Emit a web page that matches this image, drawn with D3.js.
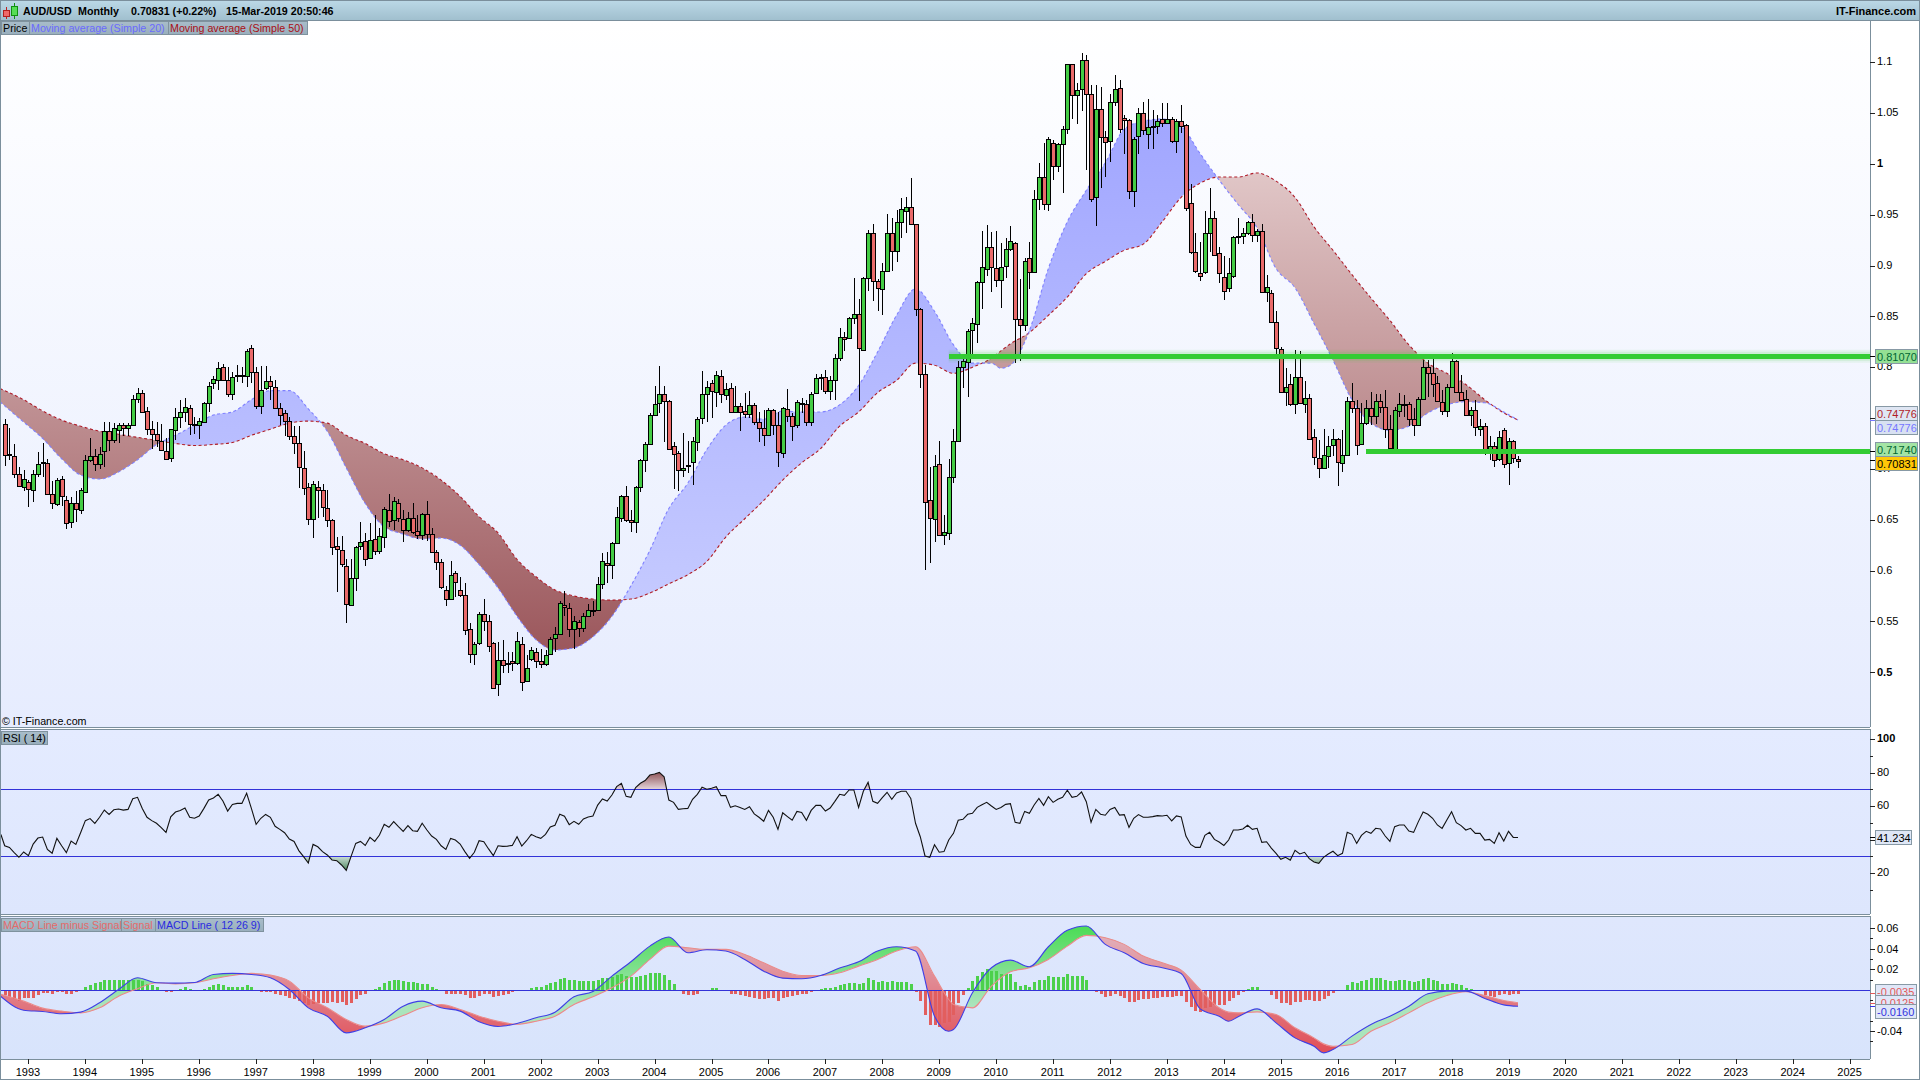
<!DOCTYPE html>
<html>
<head>
<meta charset="utf-8">
<title>AUD/USD Monthly</title>
<script src="https://cdn.jsdelivr.net/npm/d3@7/dist/d3.min.js"></script>
<style>
html,body{margin:0;padding:0;background:#fff;overflow:hidden}
svg{display:block}
text{font-family:"Liberation Sans",Arial,sans-serif;font-size:10.7px}
</style>
</head>
<body>
<svg id="chart" width="1920" height="1080"></svg>
<script>
// ---------- monthly candles, first month Aug 1992 ----------
const opens=[
.744,.714,.713,.695,.682,.687,.679,.695,.707,.706,
.675,.665,.690,.669,.647,.666,.659,.678,.709,.713,
.705,.717,.737,.728,.738,.743,.740,.743,.769,.775,
.757,.739,.734,.727,.718,.710,.738,.751,.756,.760,
.744,.743,.746,.765,.784,.787,.800,.787,.773,.791,
.791,.791,.819,.795,.762,.779,.786,.781,.760,.755,
.747,.732,.725,.701,.682,.651,.682,.679,.662,.650,
.624,.620,.605,.566,.593,.624,.629,.612,.631,.619,
.633,.660,.649,.666,.651,.640,.652,.639,.635,.656,
.636,.618,.608,.581,.572,.598,.581,.576,.543,.518,
.528,.557,.550,.529,.488,.512,.508,.511,.509,.528,
.491,.513,.520,.511,.508,.518,.534,.538,.566,.563,
.542,.549,.543,.555,.560,.561,.586,.607,.605,.627,
.651,.673,.650,.648,.682,.708,.724,.753,.765,.774,
.767,.723,.716,.699,.703,.706,.726,.750,.774,.784,
.775,.791,.773,.780,.756,.762,.757,.754,.763,.746,
.740,.733,.758,.743,.716,.759,.752,.743,.765,.764,
.746,.774,.789,.790,.776,.787,.809,.830,.828,.848,
.852,.817,.888,.932,.885,.877,.895,.932,.914,.943,
.954,.958,.941,.857,.793,.669,.651,.705,.635,.637,
.692,.727,.800,.806,.836,.843,.884,.896,.918,.898,
.886,.899,.916,.922,.847,.841,.907,.893,.965,.987,
.960,1.020,.997,1.019,1.034,1.098,1.068,1.073,1.102,1.069,
.967,1.054,1.026,1.023,1.061,1.075,1.045,1.043,.973,1.027,
1.050,1.029,1.036,1.037,1.044,1.040,1.044,1.022,1.042,1.038,
.961,.913,.893,.894,.932,.947,.912,.889,.878,.890,
.928,.929,.932,.943,.930,.934,.874,.873,.844,.818,
.776,.783,.763,.790,.764,.770,.731,.711,.701,.713,
.723,.729,.706,.714,.767,.760,.724,.745,.760,.752,
.767,.761,.739,.720,.757,.763,.764,.749,.743,.769,
.800,.794,.784,.766,.757,.780,.806,.776,.769,.753,
.758,.739,.742,.717,.723,.709,.738,.705,.727,.710];
const closes=[
.714,.715,.695,.683,.690,.680,.695,.705,.706,.676,
.666,.689,.673,.646,.666,.660,.679,.709,.713,.705,
.715,.737,.728,.740,.743,.740,.743,.769,.775,.756,
.739,.734,.728,.718,.710,.739,.751,.756,.761,.744,
.743,.747,.765,.782,.788,.799,.787,.773,.790,.792,
.792,.816,.795,.762,.778,.786,.781,.760,.753,.747,
.732,.725,.701,.681,.651,.685,.679,.662,.650,.623,
.621,.606,.568,.593,.623,.628,.611,.630,.619,.634,
.661,.649,.668,.651,.640,.652,.638,.635,.656,.636,
.618,.608,.583,.572,.596,.589,.576,.542,.518,.528,
.557,.550,.525,.485,.512,.507,.509,.509,.531,.491,
.504,.522,.511,.508,.517,.533,.538,.568,.564,.542,
.550,.543,.555,.561,.561,.587,.609,.605,.627,.653,
.673,.649,.648,.682,.709,.724,.753,.764,.774,.767,
.720,.715,.699,.701,.704,.727,.749,.774,.781,.776,
.792,.773,.779,.756,.762,.756,.754,.763,.746,.740,
.733,.758,.743,.716,.760,.752,.742,.766,.764,.746,
.774,.789,.790,.776,.787,.809,.830,.828,.848,.852,
.819,.888,.932,.885,.878,.895,.932,.914,.943,.956,
.958,.941,.857,.793,.667,.651,.703,.635,.638,.692,
.727,.800,.806,.836,.843,.884,.899,.918,.898,.886,
.899,.916,.924,.847,.841,.904,.893,.965,.987,.960,
1.024,.997,1.019,1.034,1.098,1.068,1.073,1.102,1.069,.966,
1.054,1.026,1.021,1.061,1.074,1.035,1.043,.973,1.024,1.050,
1.033,1.036,1.037,1.042,1.040,1.044,1.022,1.042,1.037,.956,
.913,.894,.890,.932,.947,.911,.892,.875,.893,.928,
.929,.932,.943,.930,.934,.874,.879,.844,.818,.776,
.781,.763,.790,.764,.770,.730,.711,.701,.714,.723,
.729,.706,.714,.767,.760,.724,.745,.760,.752,.767,
.761,.739,.720,.758,.764,.764,.749,.743,.769,.800,
.794,.783,.766,.757,.781,.806,.776,.768,.753,.758,
.741,.742,.718,.723,.709,.731,.705,.727,.710,.708];
const highs=[
.749,.740,.724,.702,.699,.689,.699,.717,.725,.710,
.688,.691,.693,.673,.672,.678,.681,.714,.730,.720,
.722,.746,.746,.745,.745,.745,.745,.773,.780,.778,
.761,.747,.746,.744,.730,.739,.760,.768,.770,.763,
.751,.750,.766,.785,.791,.805,.803,.800,.795,.802,
.800,.818,.822,.800,.801,.801,.791,.787,.765,.758,
.751,.742,.742,.718,.686,.688,.688,.685,.679,.651,
.633,.634,.611,.611,.624,.648,.637,.647,.655,.642,
.663,.675,.672,.670,.660,.658,.666,.655,.657,.668,
.642,.620,.611,.585,.609,.600,.594,.588,.548,.530,
.559,.572,.556,.530,.530,.532,.520,.520,.540,.535,
.517,.525,.524,.523,.522,.535,.545,.570,.580,.568,
.555,.551,.558,.567,.570,.594,.617,.618,.628,.663,
.674,.683,.660,.683,.710,.726,.755,.782,.801,.782,
.768,.726,.718,.735,.727,.731,.751,.796,.786,.787,
.796,.797,.784,.784,.782,.765,.775,.777,.765,.756,
.758,.760,.759,.756,.761,.779,.755,.768,.770,.768,
.776,.793,.793,.797,.791,.813,.839,.835,.849,.888,
.867,.889,.935,.941,.887,.902,.951,.947,.955,.966,
.967,.986,.941,.858,.802,.702,.714,.727,.655,.710,
.739,.806,.813,.838,.848,.885,.934,.940,.933,.934,
.922,.927,.939,.923,.887,.907,.923,.974,1.001,1.020,
1.026,1.023,1.020,1.037,1.098,1.098,1.079,1.109,1.107,1.077,
1.077,1.076,1.032,1.069,1.087,1.082,1.048,1.044,1.026,1.055,
1.061,1.064,1.053,1.048,1.060,1.060,1.046,1.044,1.058,1.039,
.980,.932,.923,.954,.976,.954,.918,.909,.907,.929,
.947,.937,.944,.951,.936,.941,.891,.876,.855,.820,
.799,.793,.817,.816,.786,.774,.739,.728,.739,.732,
.739,.730,.738,.771,.784,.768,.765,.768,.776,.774,
.774,.778,.753,.761,.775,.773,.766,.760,.771,.807,
.807,.808,.791,.778,.783,.814,.807,.792,.778,.761,
.768,.749,.745,.732,.726,.737,.740,.730,.728,.713];
const lows=[
.703,.709,.691,.682,.678,.663,.667,.692,.692,.674,
.661,.664,.664,.641,.642,.648,.656,.677,.707,.698,
.700,.702,.718,.725,.725,.732,.732,.742,.765,.755,
.733,.720,.722,.718,.709,.707,.728,.740,.746,.733,
.734,.729,.745,.756,.779,.778,.786,.771,.768,.785,
.784,.781,.784,.759,.754,.778,.768,.760,.743,.732,
.728,.715,.681,.674,.645,.632,.652,.653,.643,.615,
.579,.604,.548,.565,.580,.620,.605,.611,.615,.616,
.622,.643,.640,.648,.628,.638,.636,.631,.630,.629,
.617,.601,.582,.565,.571,.574,.574,.537,.509,.507,
.527,.541,.520,.485,.477,.499,.499,.501,.507,.482,
.490,.511,.504,.504,.506,.517,.520,.537,.555,.535,
.523,.535,.540,.554,.555,.561,.582,.588,.592,.626,
.648,.648,.638,.637,.677,.697,.724,.752,.755,.726,
.720,.680,.678,.692,.696,.684,.718,.744,.746,.750,
.761,.765,.768,.755,.755,.737,.750,.750,.743,.726,
.723,.732,.733,.702,.711,.746,.727,.740,.755,.742,
.742,.774,.778,.774,.768,.768,.806,.816,.828,.842,
.767,.816,.875,.865,.855,.851,.895,.895,.903,.927,
.932,.940,.850,.780,.601,.607,.628,.634,.625,.630,
.686,.726,.780,.771,.813,.824,.857,.890,.874,.879,
.858,.888,.914,.804,.806,.836,.877,.893,.955,.955,
.954,.984,.992,.971,1.029,1.044,1.039,1.052,.994,.962,
.939,.976,.987,1.002,1.057,1.030,1.010,.965,.958,1.010,
1.028,1.015,1.015,1.029,1.036,1.039,1.020,1.011,1.030,.954,
.911,.893,.885,.892,.913,.910,.883,.866,.874,.888,
.921,.921,.930,.923,.923,.873,.864,.843,.808,.775,
.762,.762,.754,.764,.755,.730,.704,.691,.700,.701,
.713,.683,.697,.714,.755,.714,.724,.743,.743,.744,
.755,.730,.719,.719,.751,.751,.742,.732,.742,.769,
.771,.771,.766,.753,.751,.780,.776,.768,.752,.742,
.732,.732,.714,.709,.702,.708,.701,.684,.706,.701];

// ---------- moving averages, read at these month numbers ----------
const maMonths=[-1,4,8,12,16,20,24,28,32,36,40,44,48,52,56,60,64,68,72,76,80,84,88,92,96,100,
104,108,112,116,120,124,128,132,136,140,144,148,152,156,160,164,168,172,176,180,184,188,192,196,200,204,208,210,212,
216,220,224,228,232,236,240,244,248,252,256,260,264,268,272,276,280,284,288,292,296,300,304,308,312,316,319];
const ma20=[.766,.746,.730,.710,.694,.690,.697,.709,.724,.733,.743,.753,.756,.768,.777,.777,.759,.737,.701,.666,.643,.636,.631,.632,.625,.606,
.583,.555,.532,.522,.524,.535,.555,.585,.620,.661,.686,.719,.743,.751,.749,.757,.756,.756,.763,.782,.815,.851,.877,.855,.822,.804,.804,.799,.802,
.836,.897,.943,.974,1.001,1.034,1.042,1.044,1.037,1.010,.984,.960,.937,.897,.878,.843,.807,.768,.745,.738,.742,.755,.763,.766,.765,.756,.748];
const ma50=[.779,.768,.757,.748,.742,.737,.734,.731,.728,.725,.723,.724,.726,.733,.739,.745,.747,.745,.733,.725,.715,.709,.701,.689,.673,.653,
.637,.611,.594,.581,.575,.572,.571,.572,.578,.587,.596,.609,.633,.651,.669,.689,.706,.720,.742,.756,.775,.787,.804,.802,.794,.800,.809,.816,.823,
.834,.851,.869,.892,.904,.915,.921,.943,.967,.981,.987,.987,.991,.983,.967,.938,.915,.891,.868,.846,.822,.804,.794,.783,.768,.755,.748];

// ---------- horizontal levels ----------
const levelValues=[0.8107,0.7174];
const levelStartMonths=[199,287];

// ---------- RSI(14), monthly ----------
const rsiBeforeFirstMonth=43.0;
const rsi=[
36.3,35.3,32.2,29.4,32.6,30.4,37.3,40.9,41.5,34.1,
31.8,40.7,36.3,32.2,39.1,37.1,44.1,51.3,52.5,49.7,
53.3,57.6,55.0,57.8,58.2,57.6,58.0,64.4,65.2,58.6,
53.3,51.3,49.7,47.1,44.3,53.6,56.4,57.4,58.8,53.3,
52.7,54.0,58.6,63.6,64.8,67.0,63.0,57.0,61.0,61.6,
61.6,67.6,58.6,49.1,52.7,55.0,53.3,47.9,46.1,44.1,
40.3,38.9,33.4,29.8,26.0,37.1,35.7,32.8,30.8,27.8,
27.4,24.8,21.6,29.8,37.7,38.9,36.5,41.3,38.9,42.7,
49.1,47.3,50.7,47.7,44.9,48.3,45.3,44.9,49.7,45.7,
42.1,40.1,36.3,34.1,40.7,39.7,37.3,32.8,28.8,32.4,
39.3,
38.7,34.4,30.4,36.3,35.9,36.1,36.5,41.7,36.1,39.3,
43.1,41.7,40.7,43.1,47.5,48.5,55.1,53.9,48.9,50.9,
49.1,52.3,53.5,54.1,60.6,64.2,63.0,66.6,71.6,73.6,
65.8,65.2,71.0,73.6,75.2,78.5,79.1,80.1,77.5,63.6,
62.2,58.0,58.4,58.6,64.0,67.0,71.2,70.0,70.6,71.6,
66.2,66.2,59.2,60.2,59.2,58.0,59.6,55.3,53.3,50.9,
57.4,53.3,46.1,56.0,53.7,51.5,56.8,56.2,51.5,57.4,
60.4,60.4,57.0,58.8,62.8,67.0,66.4,69.6,69.6,59.2,
68.8,74.2,62.8,61.6,65.0,68.2,64.0,67.8,68.8,68.8,
64.6,49.7,41.7,30.2,29.4,36.9,32.4,32.8,39.7,43.7,
51.5,52.1,55.1,55.7,59.2,60.8,62.2,60.0,58.0,59.2,
61.0,61.4,50.3,49.7,56.8,55.7,60.6,64.6,60.4,65.6,
62.2,64.0,65.2,69.4,65.2,65.8,68.4,62.6,50.3,58.0,
55.1,54.5,58.0,59.2,54.6,54.9,47.3,52.7,54.9,53.3,
53.3,53.7,54.3,54.1,54.5,51.1,54.1,53.5,42.1,37.1,
35.3,35.3,42.5,44.3,40.1,38.5,36.5,39.7,45.7,45.7,
46.3,48.5,46.1,46.7,38.3,38.7,34.9,31.8,28.2,29.4,
27.6,33.6,31.4,32.4,28.6,26.6,25.8,29.4,31.4,33.0,
30.4,31.8,44.3,43.1,37.7,42.5,44.9,43.7,46.7,46.3,
42.1,38.9,47.7,48.7,48.7,45.1,44.3,50.7,56.4,55.1,
52.7,48.7,46.7,51.7,56.6,50.1,48.3,45.7,46.7,43.7,
43.7,39.7,40.1,37.7,44.1,39.1,44.9,41.3,41.234];

// ---------- MACD histogram, monthly ----------
const macdHist=[
-.0052,-.0071,-.0094,-.0104,-.0084,-.0084,-.0078,-.0055,-.0029,-.0032,
-.0045,-.0026,-.0023,-.0045,-.0036,-.0023,0,.0029,.0049,.0062,
.0071,.0091,.0100,.0100,.0100,.0097,.0091,.0091,.0091,.0084,
.0058,.0042,.0023,0,-.0023,-.0023,0,.0010,.0023,.0010,
0,0,.0010,.0029,.0045,.0052,.0045,.0032,.0029,.0029,
.0023,.0042,.0023,-.0010,-.0023,-.0023,-.0026,-.0045,-.0055,-.0062,
-.0084,-.0094,-.0110,-.0133,-.0152,-.0139,-.0126,-.0126,-.0126,-.0120,
-.0126,-.0120,-.0143,-.0126,-.0087,-.0055,-.0036,0,.0010,.0029,
.0062,.0081,.0091,.0091,.0081,.0078,.0071,.0065,.0058,.0052,
.0029,.0010,-.0013,-.0042,-.0039,-.0036,-.0042,-.0055,-.0081,-.0084,
-.0062,
-.0045,-.0045,-.0071,-.0065,-.0055,-.0036,-.0019,0,0,0,
.0019,.0032,.0032,.0042,.0062,.0071,.0104,.0110,.0100,.0097,
.0081,.0081,.0081,.0081,.0091,.0110,.0110,.0126,.0143,.0149,
.0136,.0120,.0123,.0136,.0143,.0159,.0159,.0159,.0139,.0094,
.0052,0,-.0036,-.0052,-.0055,-.0045,-.0013,0,.0013,.0019,
0,0,-.0036,-.0042,-.0055,-.0062,-.0071,-.0075,-.0087,-.0091,
-.0084,-.0084,-.0104,-.0075,-.0071,-.0062,-.0049,-.0036,-.0045,-.0023,
0,.0010,.0013,.0013,.0032,.0049,.0052,.0068,.0068,.0052,
.0068,.0110,.0100,.0078,.0084,.0075,.0081,.0075,.0075,.0078,
.0052,-.0019,-.0110,-.0249,-.0337,-.0337,-.0363,-.0321,-.0314,-.0240,
-.0133,-.0055,.0019,.0084,.0130,.0168,.0198,.0181,.0181,.0156,
.0156,.0149,.0078,.0036,.0042,.0032,.0071,.0100,.0100,.0130,
.0123,.0120,.0123,.0149,.0136,.0130,.0130,.0091,-.0010,-.0019,
-.0045,-.0071,-.0065,-.0045,-.0065,-.0078,-.0123,-.0123,-.0100,-.0094,
-.0091,-.0078,-.0078,-.0071,-.0068,-.0071,-.0062,-.0062,-.0117,-.0165,
-.0201,-.0217,-.0175,-.0165,-.0152,-.0152,-.0143,-.0104,-.0081,-.0052,
-.0023,.0010,.0023,.0032,0,-.0016,-.0055,-.0087,-.0126,-.0133,
-.0143,-.0120,-.0120,-.0100,-.0100,-.0113,-.0110,-.0087,-.0065,-.0029,
-.0016,-.0010,.0049,.0078,.0068,.0087,.0100,.0110,.0117,.0117,
.0094,.0084,.0087,.0091,.0097,.0081,.0075,.0084,.0104,.0113,
.0100,.0081,.0058,.0058,.0065,.0058,.0042,.0019,.0006,-.0006,
-.0016,-.0049,-.0058,-.0068,-.0052,-.0045,-.0052,-.0045,-.0040];

// ---------- MACD and signal lines, read at these month numbers ----------
const macdMonths=[-1,4,8,12,16,20,24,28,32,36,40,44,48,52,56,60,64,68,72,76,80,84,88,92,96,100,
104,108,112,116,120,124,128,132,136,140,144,148,152,156,160,164,168,172,176,180,184,188,192,196,199,200,204,208,212,
216,220,224,228,232,236,240,244,248,252,256,258,260,264,268,272,276,278,280,284,288,292,296,300,304,308,312,316,319];
const macdLine=[-.0058,-.0198,-.0211,-.0233,-.0217,-.0126,.0003,.0117,.0068,.0065,.0071,.0149,.0159,.0149,.0117,.0003,-.0175,-.0256,-.0418,-.0369,-.0288,-.0159,-.0110,-.0175,-.0207,-.0311,
-.0356,-.0327,-.0272,-.0217,-.0068,-.0016,.0133,.0272,.0424,.0512,.0360,.0389,.0376,.0295,.0181,.0113,.0107,.0139,.0211,.0272,.0376,.0418,.0376,-.0256,-.0402,-.0386,-.0029,.0214,.0288,
.0224,.0418,.0577,.0619,.0441,.0360,.0256,.0214,.0159,-.0185,-.0256,-.0305,-.0262,-.0185,-.0321,-.0467,-.0548,-.0612,-.0580,-.0450,-.0337,-.0256,-.0159,-.0039,-.0013,-.0013,-.0084,-.0146,-.0160];
const signalLine=[-.0040,-.0110,-.0178,-.0207,-.0224,-.0175,-.0062,.0010,.0068,.0058,.0068,.0107,.0139,.0159,.0143,.0084,-.0078,-.0175,-.0288,-.0353,-.0321,-.0249,-.0175,-.0143,-.0191,-.0256,
-.0305,-.0334,-.0305,-.0256,-.0143,-.0068,.0019,.0133,.0295,.0424,.0408,.0392,.0392,.0343,.0262,.0181,.0139,.0139,.0165,.0230,.0295,.0376,.0418,.0133,-.0094,-.0143,-.0175,.0036,.0175,
.0214,.0295,.0424,.0528,.0505,.0441,.0327,.0262,.0191,.0003,-.0175,-.0217,-.0224,-.0214,-.0240,-.0369,-.0467,-.0525,-.0548,-.0531,-.0402,-.0321,-.0224,-.0126,-.0055,-.0019,-.0055,-.0104,-.0125];

// ---------- axes ----------
const yearLabels=[1993,1994,1995,1996,1997,1998,1999,2000,2001,2002,2003,2004,2005,2006,2007,2008,2009,2010,2011,2012,2013,2014,2015,2016,2017,2018,2019,2020,2021,2022,2023,2024,2025];
const priceTicks=[1.1,1.05,1,0.95,0.9,0.85,0.8,0.75,0.7,0.65,0.6,0.55,0.5];
const rsiTicks=[100,80,60,40,20];
const rsiMinorTicks=[90,70,50,30,10];
const macdTicks=[0.06,0.04,0.02,-0.04];
const macdMinorTicks=[0.05,0.03,0.01,-0.01,-0.03,-0.05];

// ---------- current value labels ----------
const priceLabelValues=[0.8107,0.74776,0.74776,0.7174,0.70831];
const priceLabelTexts=["0.81070","0.74776","0.74776","0.71740","0.70831"];
const macdLabelValues=[-0.0035,-0.0125,-0.016];
const macdLabelTexts=["-0.0035","-0.0125","-0.0160"];
const rsiLabelValue=41.234;
const rsiLabelText="41.234";

// ---------- drawing ----------
const W=1920,H=1080,LEFT=1,RIGHT=1870;
const MAIN={t:21,b:727},RS={t:730,b:914},MC={t:917,b:1059};
const FRAME="#7b8f9c";
const smooth=d3.curveMonotoneX;

const svg=d3.select("#chart");
const defs=svg.append("defs");
function grad(id,y1,y2,c1,c2){
  const g=defs.append("linearGradient").attr("id",id).attr("gradientUnits","userSpaceOnUse")
    .attr("x1",0).attr("x2",0).attr("y1",y1).attr("y2",y2);
  g.append("stop").attr("offset",0).attr("stop-color",c1);
  g.append("stop").attr("offset",1).attr("stop-color",c2);
}
grad("bgMain",MAIN.t,MAIN.b,"#ffffff","#e6ecfe");
grad("bgRsi",RS.t,RS.b,"#e4ebff","#dde6fd");
grad("bgMacd",MC.t,MC.b,"#dfe7fd","#d8e4fc");
grad("barTop",0,21,"#bcd9e7","#9fbecd");
grad("legendBg",0,14,"#a9bdca","#98aebc");
grad("fillBlue",100,650,"#a0a5ff","#c8cdff");
grad("fillRed",100,660,"#ebd7d7","#9a555a");
grad("rsiHot",768,789,"#7a3438","#e2d2d8");
grad("rsiCold",856,872,"#cfe0da","#3f7f52");
grad("macdGreen",930,1005,"#4fdc5a","#aae4bc");
grad("macdRed",930,1050,"#e1b4bf","#e15058");

const x=d3.scaleLinear().domain([0,319]).range([4.7,1518]);
const yP=d3.scaleLinear().domain([0.5,1.1]).range([672.3,62.1]);
const yR=d3.scaleLinear().domain([30,70]).range([856.3,789.3]);
const yM=d3.scaleLinear().domain([-0.04,0.06]).range([1031,928]);
const px=i=>Math.round(x(i))+0.5;

// panels
svg.append("rect").attr("width",W).attr("height",H).attr("fill","#fff");
[[MAIN,"bgMain"],[RS,"bgRsi"],[MC,"bgMacd"]].forEach(([p,f])=>{
  svg.append("rect").attr("x",LEFT).attr("y",p.t).attr("width",RIGHT-LEFT).attr("height",p.b-p.t).attr("fill",`url(#${f})`);
});

// moving-average clouds
const maData=maMonths.map((m,i)=>({m,a:ma20[i],b:ma50[i]}));
const clipAbove=d3.area().curve(smooth).x(d=>x(d.m)).y0(MAIN.t).y1(d=>yP(d.b));
const clipBelow=d3.area().curve(smooth).x(d=>x(d.m)).y0(d=>yP(d.b)).y1(MAIN.b);
defs.append("clipPath").attr("id","aboveMa50").append("path").attr("d",clipAbove(maData));
defs.append("clipPath").attr("id","belowMa50").append("path").attr("d",clipBelow(maData));
const cloud=d3.area().curve(smooth).x(d=>x(d.m)).y0(d=>yP(d.a)).y1(d=>yP(d.b));
svg.append("path").attr("d",cloud(maData)).attr("fill","url(#fillBlue)").attr("clip-path","url(#aboveMa50)");
svg.append("path").attr("d",cloud(maData)).attr("fill","url(#fillRed)").attr("clip-path","url(#belowMa50)");
svg.append("path").attr("d",d3.line().curve(smooth).x(d=>x(d.m)).y(d=>yP(d.b))(maData)).attr("fill","none").attr("stroke","#b01c28").attr("stroke-width",1.1).attr("stroke-dasharray","3,2.5");
svg.append("path").attr("d",d3.line().curve(smooth).x(d=>x(d.m)).y(d=>yP(d.a))(maData)).attr("fill","none").attr("stroke","#7f80ff").attr("stroke-width",1.1).attr("stroke-dasharray","3,2.5");

// candles
const candles=d3.range(opens.length);
const cg=svg.append("g").attr("shape-rendering","crispEdges");
cg.selectAll("line").data(candles).join("line")
  .attr("x1",px).attr("x2",px).attr("y1",i=>yP(highs[i])).attr("y2",i=>yP(lows[i]))
  .attr("stroke","#000").attr("stroke-width",1);
cg.selectAll("rect").data(candles).join("rect")
  .attr("x",i=>px(i)-2).attr("width",4)
  .attr("y",i=>Math.round(yP(Math.max(opens[i],closes[i])))+.5)
  .attr("height",i=>Math.max(1,Math.round(Math.abs(yP(opens[i])-yP(closes[i])))))
  .attr("fill",i=>closes[i]>=opens[i]?"#44cc44":"#e96a6a")
  .attr("stroke","#000").attr("stroke-width",1);

// levels
levelValues.forEach((v,i)=>{
  if(i===0){
    [[13,.07],[9,.12]].forEach(([w,o])=>svg.append("line").attr("x1",x(levelStartMonths[i])).attr("x2",RIGHT).attr("y1",yP(v)).attr("y2",yP(v)).attr("stroke","#33cc33").attr("stroke-width",w).attr("opacity",o));
  }
  svg.append("line").attr("x1",x(levelStartMonths[i])).attr("x2",RIGHT).attr("y1",yP(v)).attr("y2",yP(v)).attr("stroke","#33cc33").attr("stroke-width",5).attr("shape-rendering","crispEdges");
});

// RSI panel
const rsiPoints=[{m:-0.8,v:rsiBeforeFirstMonth}].concat(rsi.map((v,m)=>({m,v})));
defs.append("clipPath").attr("id","rsiTop").append("rect").attr("x",LEFT).attr("width",RIGHT-LEFT).attr("y",RS.t).attr("height",yR(70)-RS.t);
defs.append("clipPath").attr("id","rsiBot").append("rect").attr("x",LEFT).attr("width",RIGHT-LEFT).attr("y",yR(30)).attr("height",RS.b-yR(30));
svg.append("path").attr("d",d3.area().x(d=>x(d.m)).y0(yR(70)).y1(d=>yR(d.v))(rsiPoints)).attr("fill","url(#rsiHot)").attr("clip-path","url(#rsiTop)");
svg.append("path").attr("d",d3.area().x(d=>x(d.m)).y0(yR(30)).y1(d=>yR(d.v))(rsiPoints)).attr("fill","url(#rsiCold)").attr("clip-path","url(#rsiBot)");
[70,30].forEach(v=>svg.append("line").attr("x1",LEFT).attr("x2",RIGHT).attr("y1",Math.round(yR(v))+.5).attr("y2",Math.round(yR(v))+.5).attr("stroke","#3232d8").attr("shape-rendering","crispEdges"));
svg.append("path").attr("d",d3.line().x(d=>x(d.m)).y(d=>yR(d.v))(rsiPoints)).attr("fill","none").attr("stroke","#111").attr("stroke-width",1.1);

// MACD panel
const mData=macdMonths.map((m,i)=>({m,a:macdLine[i],b:signalLine[i]}));
defs.append("clipPath").attr("id","aboveSig").append("path").attr("d",d3.area().curve(smooth).x(d=>x(d.m)).y0(MC.t).y1(d=>yM(d.b))(mData));
defs.append("clipPath").attr("id","belowSig").append("path").attr("d",d3.area().curve(smooth).x(d=>x(d.m)).y0(d=>yM(d.b)).y1(MC.b)(mData));
const mArea=d3.area().curve(smooth).x(d=>x(d.m)).y0(d=>yM(d.a)).y1(d=>yM(d.b));
svg.append("path").attr("d",mArea(mData)).attr("fill","url(#macdGreen)").attr("clip-path","url(#aboveSig)");
svg.append("path").attr("d",mArea(mData)).attr("fill","url(#macdRed)").attr("clip-path","url(#belowSig)");
svg.append("g").attr("shape-rendering","crispEdges").selectAll("rect").data(macdHist.map((v,i)=>({v,i})).filter(d=>d.v!==0)).join("rect")
  .attr("x",d=>Math.round(x(d.i))-1).attr("width",3)
  .attr("y",d=>Math.min(yM(0),yM(d.v))).attr("height",d=>Math.abs(yM(d.v)-yM(0)))
  .attr("fill",d=>d.v>0?"#4cd04c":"#e25e5e");
svg.append("line").attr("x1",LEFT).attr("x2",RIGHT).attr("y1",Math.round(yM(0))+.5).attr("y2",Math.round(yM(0))+.5).attr("stroke","#3232d8").attr("shape-rendering","crispEdges");
svg.append("path").attr("d",d3.line().curve(smooth).x(d=>x(d.m)).y(d=>yM(d.b))(mData)).attr("fill","none").attr("stroke","#ec8a8a").attr("stroke-width",1.1);
svg.append("path").attr("d",d3.line().curve(smooth).x(d=>x(d.m)).y(d=>yM(d.a))(mData)).attr("fill","none").attr("stroke","#3f3fe6").attr("stroke-width",1.1);

// frame lines
function hline(y,x1=0,x2=RIGHT){svg.append("line").attr("x1",x1).attr("x2",x2).attr("y1",y+.5).attr("y2",y+.5).attr("stroke",FRAME).attr("shape-rendering","crispEdges");}
function vline(xx,y1,y2){svg.append("line").attr("x1",xx+.5).attr("x2",xx+.5).attr("y1",y1).attr("y2",y2).attr("stroke",FRAME).attr("shape-rendering","crispEdges");}
[MAIN.b,RS.t-1,RS.b,MC.t-1,MC.b].forEach(y=>hline(y));
[[MAIN.t,MAIN.b],[RS.t-1,RS.b],[MC.t-1,MC.b]].forEach(([a,b])=>vline(RIGHT,a,b));
vline(0,0,H);vline(W-1,0,H);hline(H-1,0,W);

// axes
function styleAxis(g){
  g.select(".domain").remove();
  g.selectAll("line").attr("stroke","#222").attr("shape-rendering","crispEdges");
  g.selectAll("text").attr("fill","#000").style("font-size","11px");
}
const bold=(g,labels)=>g.selectAll("text").filter(function(){return labels.includes(this.textContent)}).attr("font-weight","bold").style("font-weight","bold");
const gP=svg.append("g").attr("transform",`translate(${RIGHT},0)`).call(d3.axisRight(yP).tickValues(priceTicks).tickSize(5).tickPadding(2).tickFormat(d=>String(d))).call(styleAxis);
gP.selectAll("text").attr("dy","0.25em");
bold(gP,["1","0.5"]);
const gR=svg.append("g").attr("transform",`translate(${RIGHT},0)`).call(d3.axisRight(yR).tickValues(rsiTicks).tickSize(5).tickPadding(2).tickFormat(d=>d===40?"":String(d))).call(styleAxis);
gR.selectAll("text").attr("dy","0.25em");
bold(gR,["100"]);
svg.append("g").attr("transform",`translate(${RIGHT},0)`).call(d3.axisRight(yR).tickValues(rsiMinorTicks).tickSize(3).tickFormat("")).call(styleAxis);
svg.append("g").attr("transform",`translate(${RIGHT},0)`).call(d3.axisRight(yM).tickValues(macdTicks).tickSize(5).tickPadding(2).tickFormat(d=>String(d))).call(styleAxis);
svg.append("g").attr("transform",`translate(${RIGHT},0)`).call(d3.axisRight(yM).tickValues(macdMinorTicks).tickSize(3).tickFormat("")).call(styleAxis);
const yearToMonth=y=>(y-1993)*12+5;
const gX=svg.append("g").attr("transform",`translate(0,${MC.b})`).call(d3.axisBottom(x).tickValues(yearLabels.map(yearToMonth)).tickSize(5).tickPadding(4).tickFormat(m=>String(1993+(m-5)/12))).call(styleAxis);
gX.selectAll("text").attr("dx",-1);

// value labels on the right
function valueBox(y,text,textColor,fill,width,offset,tickColor){
  svg.append("line").attr("x1",RIGHT).attr("x2",RIGHT+5).attr("y1",Math.round(y)+.5).attr("y2",Math.round(y)+.5).attr("stroke",tickColor).attr("shape-rendering","crispEdges");
  const c=y+offset;
  svg.append("rect").attr("x",1875.5).attr("y",Math.round(c-7.2)+.5).attr("width",width).attr("height",14).attr("fill",fill).attr("stroke","#8799a5").attr("shape-rendering","crispEdges");
  svg.append("text").attr("x",1877).attr("y",Math.round(c-7.2)+11.5).attr("fill",textColor).style("font-size","11px").text(text);
}
const pStyle=[["#063","#94e094",0,"#000"],["#b01c28","#dfe6f3",-7.4,"#b01c28"],["#7676ff","#d8e1f2",6.7,"#7676ff"],["#063","#a4e4a4",-2.4,"#000"],["#000","#ffc808",2.9,"#000"]];
priceLabelValues.forEach((v,i)=>{const s=pStyle[i];valueBox(yP(v),priceLabelTexts[i],s[0],s[1],42,s[2],s[3]);});
valueBox(yR(rsiLabelValue),rsiLabelText,"#000","#dfe7f6",36,0,"#000");
const mStyle=[["#e05a5a","#e0e7f8",-2.6,"#e05a5a"],["#e05a5a","#e0e7f8",0,"#e05a5a"],["#3434e0","#dfe6f7",5,"#3434e0"]];
macdLabelValues.forEach((v,i)=>{const s=mStyle[i];valueBox(yM(v),macdLabelTexts[i],s[0],s[1],40.5,s[2],s[3]);});

// header bar
svg.append("rect").attr("x",.5).attr("y",.5).attr("width",W-1).attr("height",20).attr("fill","url(#barTop)").attr("stroke",FRAME).attr("shape-rendering","crispEdges");
const icon=svg.append("g").attr("shape-rendering","crispEdges");
icon.append("line").attr("x1",6.5).attr("x2",6.5).attr("y1",7).attr("y2",19).attr("stroke","#c02020");
icon.append("rect").attr("x",3.5).attr("y",10.5).attr("width",6).attr("height",6).attr("fill","#ef6a6a").attr("stroke","#b02020");
icon.append("line").attr("x1",14.5).attr("x2",14.5).attr("y1",3).attr("y2",19).attr("stroke","#109010");
icon.append("rect").attr("x",11.5).attr("y",6.5).attr("width",6).attr("height",9).attr("fill","#55dd55").attr("stroke","#109010");
const headerParts=[["AUD/USD",23],["Monthly",78],["0.70831 (+0.22%)",131],["15-Mar-2019 20:50:46",226]];
headerParts.forEach(([t,xx])=>svg.append("text").attr("x",xx).attr("y",15).attr("font-weight","bold").style("font-size","10.7px").text(t));
svg.append("text").attr("x",1916).attr("y",15).attr("text-anchor","end").attr("font-weight","bold").style("font-size","11px").text("IT-Finance.com");

// legends
function legend(y,items){
  items.forEach(([t,x0,x1,col])=>{
    const g=svg.append("g").attr("transform",`translate(0,${y})`);
    g.append("rect").attr("x",x0+.5).attr("y",.5).attr("width",x1-x0).attr("height",13).attr("fill","url(#legendBg)").attr("stroke","#7f929e").attr("shape-rendering","crispEdges");
    g.append("text").attr("x",x0+2).attr("y",11).attr("fill",col).text(t);
  });
}
legend(21,[["Price",1,29,"#000"],["Moving average (Simple 20)",29,168,"#6a6aff"],["Moving average (Simple 50)",168,307,"#aa0f14"]]);
legend(731,[["RSI ( 14)",1,47,"#000"]]);
legend(918,[["MACD Line minus Signal",1,121,"#e56a6a"],["Signal",121,155,"#e56a6a"],["MACD Line ( 12 26 9)",155,263,"#2a2ae0"]]);

svg.append("text").attr("x",2).attr("y",725).attr("fill","#000").text("© IT-Finance.com");
</script>
</body>
</html>
